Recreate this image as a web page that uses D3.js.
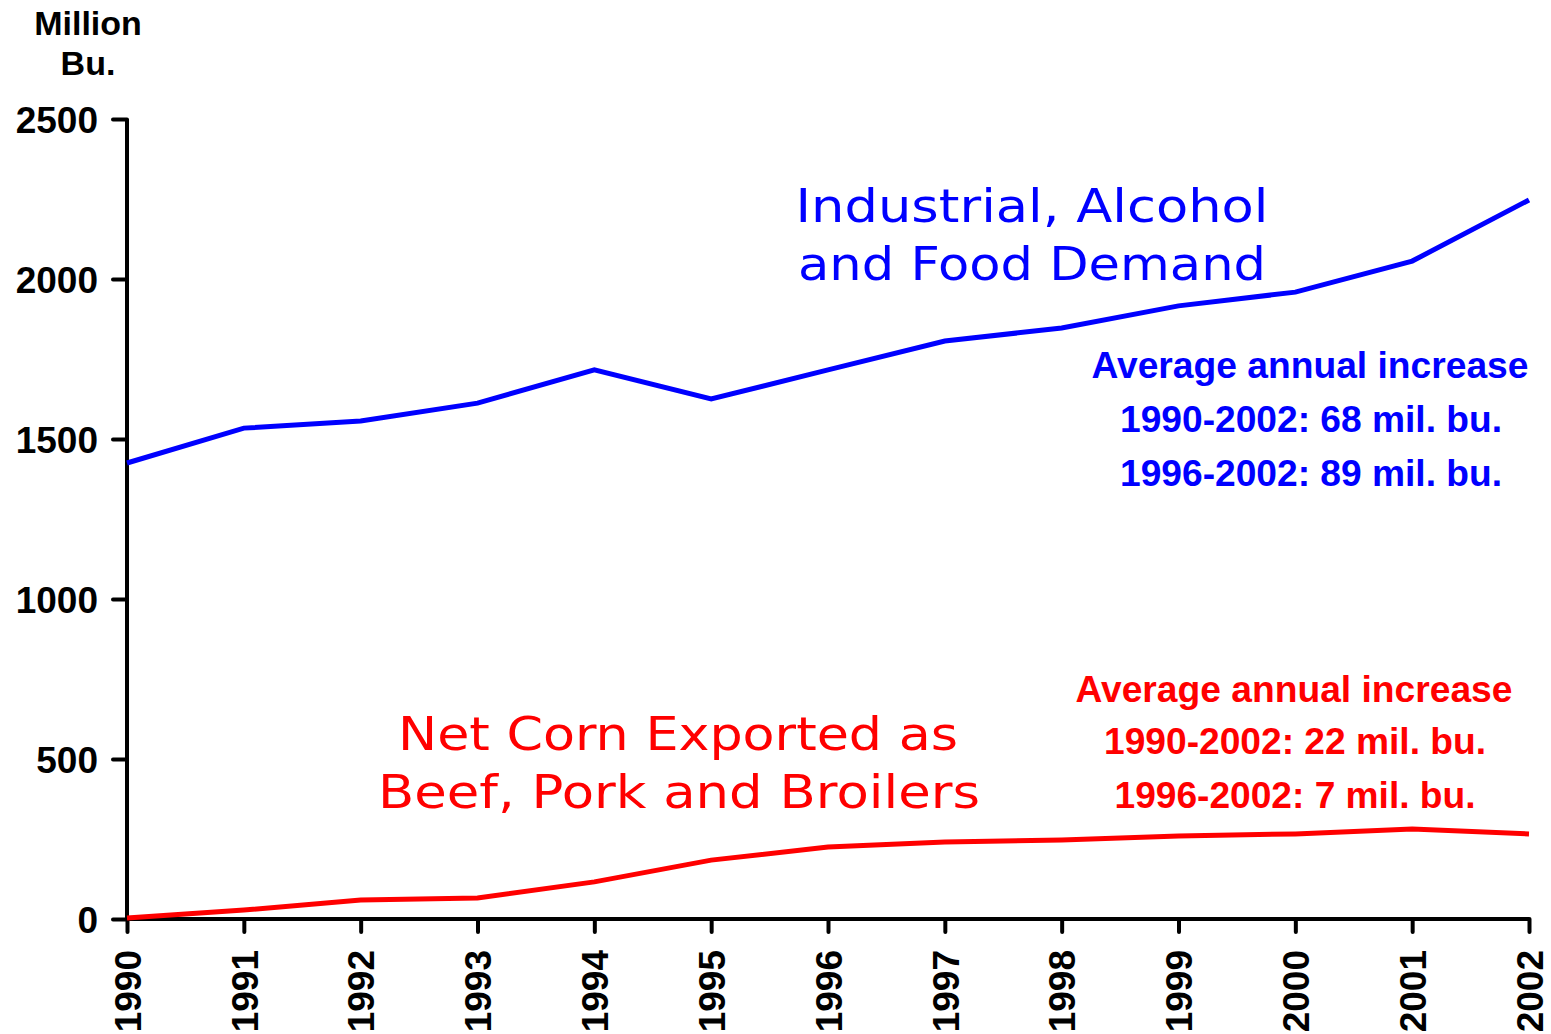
<!DOCTYPE html>
<html>
<head>
<meta charset="utf-8">
<script src="https://cdn.jsdelivr.net/npm/d3@7"></script>
<style>
  body { margin: 0; background: #fff; }
  svg { display: block; }
</style>
</head>
<body>
<svg id="chart" width="1551" height="1034"></svg>
<script>
// data
var years = [1990, 1991, 1992, 1993, 1994, 1995, 1996, 1997, 1998, 1999, 2000, 2001, 2002];
var industrial = [1425, 1534, 1556, 1612, 1716, 1625, 1716, 1806, 1847, 1916, 1959, 2056, 2247];
var netExport = [3, 28, 59, 66, 116, 184, 225, 241, 247, 259, 266, 281, 266];
var yTicks = [0, 500, 1000, 1500, 2000, 2500];

var svg = d3.select("#chart");
var boldFont = "'Liberation Sans', Arial, sans-serif";
var wideFont = "'DejaVu Sans', Verdana, sans-serif";

var x = d3.scaleLinear().domain([1990, 2002]).range([127, 1529]);
var y = d3.scaleLinear().domain([0, 2500]).range([919, 119]);

// y axis
var yAxis = svg.append("g")
  .attr("transform", "translate(127,0)")
  .call(d3.axisLeft(y).tickValues(yTicks).tickSize(14).tickPadding(15).tickFormat(d3.format("d")));
yAxis.select(".domain").attr("stroke", "#000").attr("stroke-width", 4)
  .attr("d", "M0," + y(2500) + "V" + y(0));
yAxis.selectAll(".tick line").attr("stroke", "#000").attr("stroke-width", 4).attr("stroke-linecap", "round");
yAxis.selectAll(".tick text")
  .attr("font-family", boldFont).attr("font-weight", "bold").attr("font-size", 37).attr("fill", "#000")
  .attr("dy", "0.36em");

// x axis
var xAxis = svg.append("g")
  .attr("transform", "translate(0,919)")
  .call(d3.axisBottom(x).tickValues(years).tickSize(13).tickPadding(0).tickFormat(d3.format("d")));
xAxis.select(".domain").attr("stroke", "#000").attr("stroke-width", 4)
  .attr("d", "M" + x(1990) + ",0H" + x(2002));
xAxis.selectAll(".tick line").attr("stroke", "#000").attr("stroke-width", 4).attr("stroke-linecap", "round");
xAxis.selectAll(".tick text")
  .attr("font-family", boldFont).attr("font-weight", "bold").attr("font-size", 37).attr("fill", "#000")
  .attr("transform", "rotate(-90)")
  .attr("text-anchor", "end")
  .attr("x", -31).attr("y", 0).attr("dy", "0.36em");

// y unit label
svg.append("text")
  .attr("x", 88).attr("y", 35)
  .attr("text-anchor", "middle")
  .attr("font-family", boldFont).attr("font-weight", "bold").attr("font-size", 34)
  .text("Million");
svg.append("text")
  .attr("x", 88).attr("y", 75)
  .attr("text-anchor", "middle")
  .attr("font-family", boldFont).attr("font-weight", "bold").attr("font-size", 34)
  .text("Bu.");

// lines
var line = d3.line()
  .x(function (d, i) { return x(years[i]); })
  .y(function (d) { return y(d); });

svg.append("path")
  .datum(industrial)
  .attr("d", line)
  .attr("fill", "none")
  .attr("stroke", "#0000ff")
  .attr("stroke-width", 5);

svg.append("path")
  .datum(netExport)
  .attr("d", line)
  .attr("fill", "none")
  .attr("stroke", "#ff0000")
  .attr("stroke-width", 5);

// series labels
function bigLabel(txt, cx, by, w, color) {
  svg.append("text")
    .attr("x", cx).attr("y", by)
    .attr("text-anchor", "middle")
    .attr("font-family", wideFont).attr("font-size", 46)
    .attr("fill", color)
    .attr("textLength", w).attr("lengthAdjust", "spacingAndGlyphs")
    .text(txt);
}
bigLabel("Industrial, Alcohol", 1032, 222, 473, "#0000ff");
bigLabel("and Food Demand", 1032, 280, 468, "#0000ff");
bigLabel("Net Corn Exported as", 678, 750, 560, "#ff0000");
bigLabel("Beef, Pork and Broilers", 679, 808, 602, "#ff0000");

// annotations
function note(txt, cx, by, w, color) {
  svg.append("text")
    .attr("x", cx).attr("y", by)
    .attr("text-anchor", "middle")
    .attr("font-family", boldFont).attr("font-weight", "bold").attr("font-size", 36)
    .attr("fill", color)
    .attr("textLength", w).attr("lengthAdjust", "spacingAndGlyphs")
    .text(txt);
}
note("Average annual increase", 1310, 378, 437, "#0000ff");
note("1990-2002: 68 mil. bu.", 1311, 432, 382, "#0000ff");
note("1996-2002: 89 mil. bu.", 1311, 486, 382, "#0000ff");
note("Average annual increase", 1294, 702, 437, "#ff0000");
note("1990-2002: 22 mil. bu.", 1295, 754, 382, "#ff0000");
note("1996-2002: 7 mil. bu.", 1295, 808, 361, "#ff0000");
</script>
</body>
</html>
